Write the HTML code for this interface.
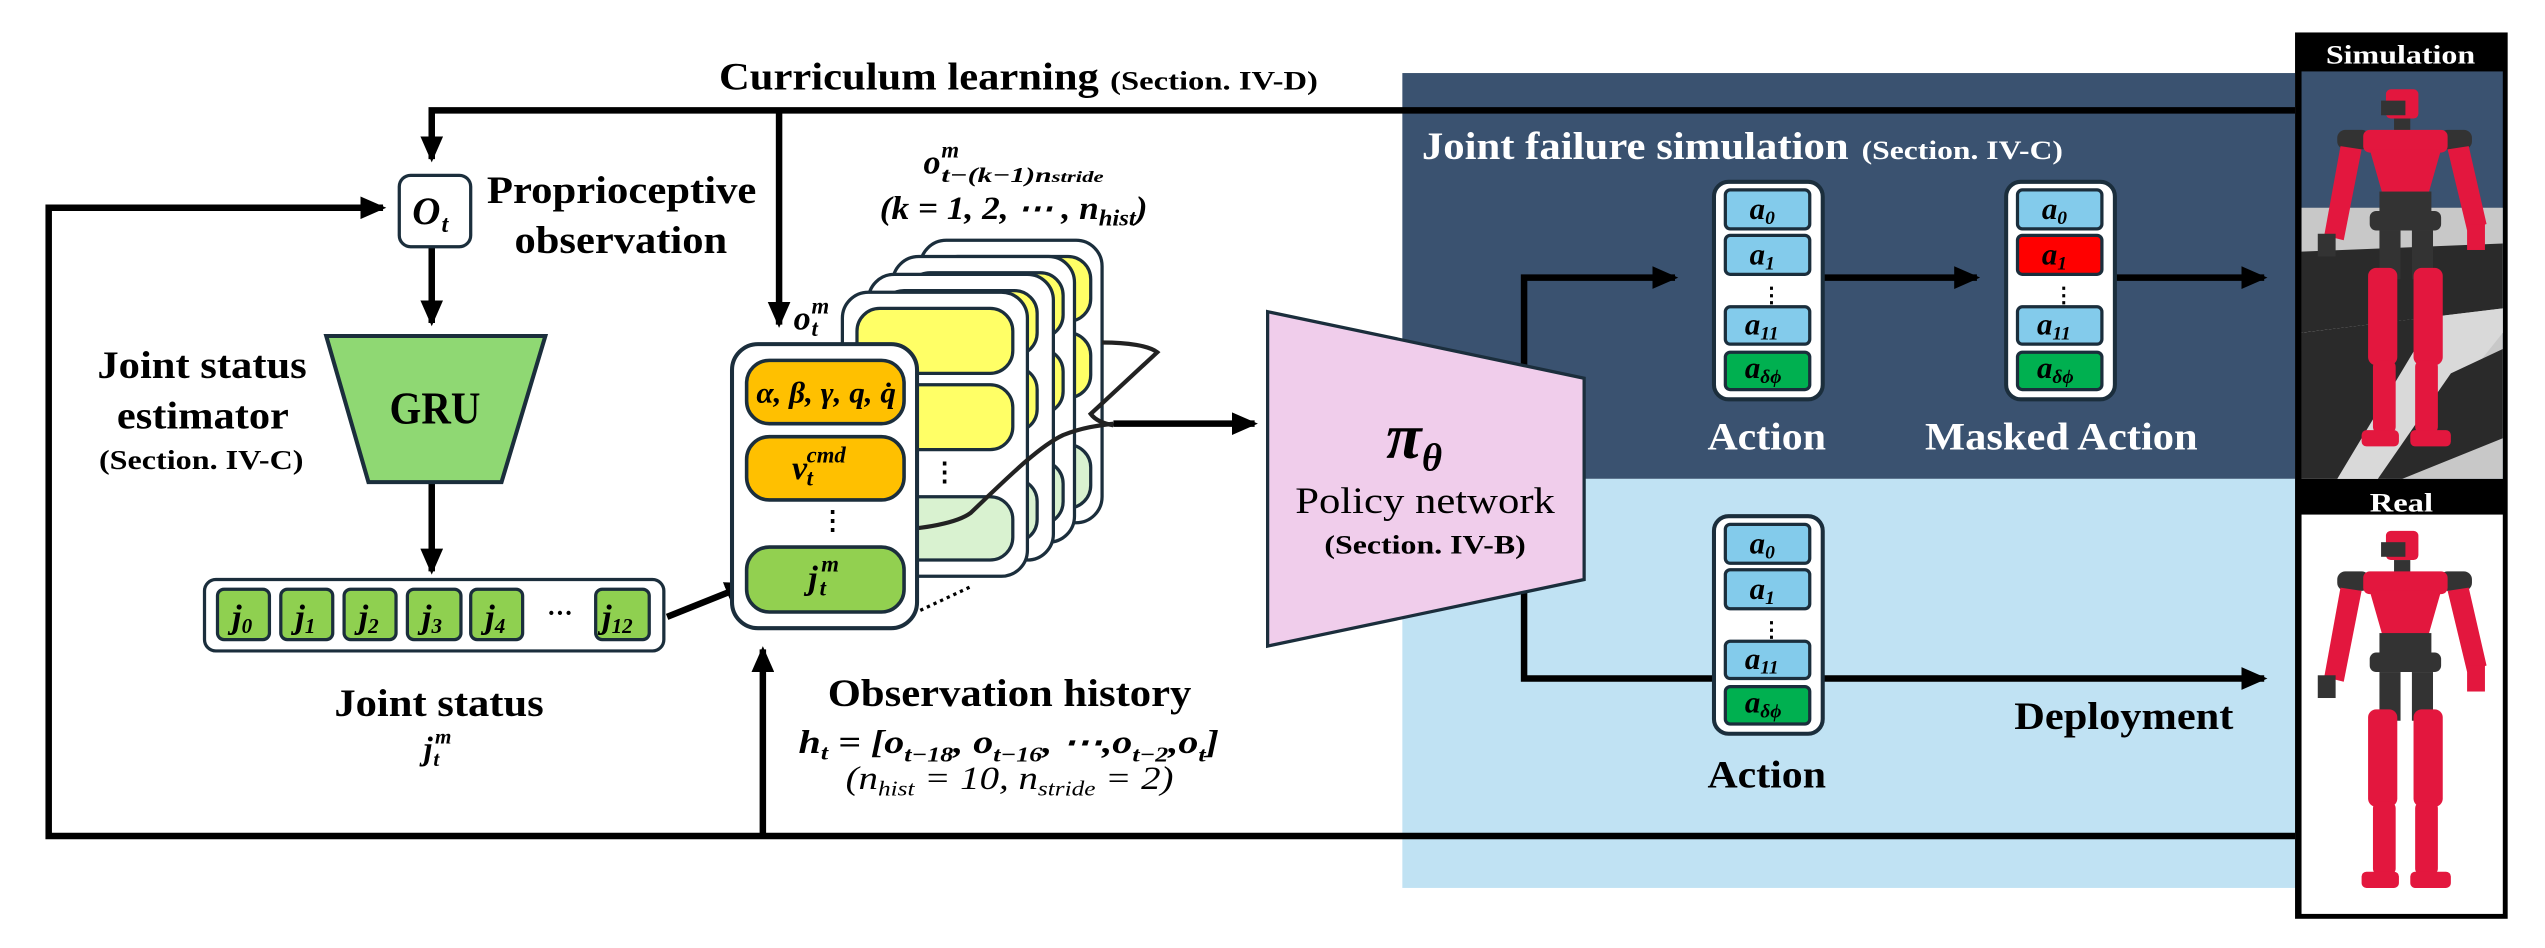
<!DOCTYPE html>
<html><head><meta charset="utf-8"><style>
html,body{margin:0;padding:0;background:#fff;}
svg{display:block;}
text{font-family:"Liberation Serif",serif;}
.b{font-weight:bold;}
.m{font-family:"Liberation Serif",serif;font-style:italic;font-weight:bold;}
</style></head><body>
<svg width="2545" height="948" viewBox="0 0 1568 584" preserveAspectRatio="none" xmlns="http://www.w3.org/2000/svg">
<defs>
<marker id="ar" markerUnits="userSpaceOnUse" markerWidth="16" markerHeight="14" refX="14" refY="7" orient="auto"><path d="M0,0 L16,7 L0,14 Z" fill="#000"/></marker>
</defs>

<rect x="864" y="45" width="550" height="250" fill="#3A5270"/>
<rect x="864" y="295" width="550" height="252" fill="#C0E2F3"/>

<g stroke="#000" stroke-width="4" fill="none">
<polyline points="1414,68 266,68 266,98" marker-end="url(#ar)"/>
<line x1="480" y1="68" x2="480" y2="200" marker-end="url(#ar)"/>
<polyline points="1414,515 30,515 30,128 236,128" marker-end="url(#ar)"/>
<line x1="470" y1="515" x2="470" y2="400" marker-end="url(#ar)"/>
<line x1="266" y1="152" x2="266" y2="199" marker-end="url(#ar)"/>
<line x1="266" y1="297" x2="266" y2="352" marker-end="url(#ar)"/>
<line x1="411" y1="380" x2="461" y2="360" marker-end="url(#ar)"/>
<line x1="686" y1="261" x2="773" y2="261" marker-end="url(#ar)"/>
<polyline points="939,240 939,171 1032,171" marker-end="url(#ar)"/>
<polyline points="939,300 939,418 1395,418" marker-end="url(#ar)"/>
<line x1="1123" y1="171" x2="1218" y2="171" marker-end="url(#ar)"/>
<line x1="1303" y1="171" x2="1395" y2="171" marker-end="url(#ar)"/>
</g>

<text x="443" y="55" class="b" font-size="24" textLength="234" lengthAdjust="spacingAndGlyphs">Curriculum learning</text>
<text x="684" y="55" class="b" font-size="16" textLength="128" lengthAdjust="spacingAndGlyphs">(Section. IV-D)</text>

<rect x="246" y="108" width="44" height="44" rx="7" fill="#fff" stroke="#1b2e3c" stroke-width="2"/>
<text x="254" y="138" class="m" font-size="24" font-weight="normal">O</text><text x="272" y="143" class="m" font-size="15" font-weight="normal">t</text>
<text x="300" y="125" class="b" font-size="24" textLength="166" lengthAdjust="spacingAndGlyphs">Proprioceptive</text>
<text x="317" y="156" class="b" font-size="24" textLength="131" lengthAdjust="spacingAndGlyphs">observation</text>

<polygon points="201,207 336,207 309,297 227,297" fill="#8FD873" stroke="#1b2e3c" stroke-width="2.5"/>
<text x="240" y="261" class="b" font-size="28" textLength="56" lengthAdjust="spacingAndGlyphs">GRU</text>
<text x="60" y="233" class="b" font-size="24" textLength="129" lengthAdjust="spacingAndGlyphs">Joint status</text>
<text x="72" y="264" class="b" font-size="24" textLength="106" lengthAdjust="spacingAndGlyphs">estimator</text>
<text x="61" y="289" class="b" font-size="17" textLength="126" lengthAdjust="spacingAndGlyphs">(Section. IV-C)</text>

<rect x="126" y="357" width="283" height="44" rx="7" fill="#fff" stroke="#1b2e3c" stroke-width="2"/>
<g fill="#8FD050" stroke="#1b2e3c" stroke-width="2">
<rect x="134" y="363" width="32" height="31" rx="4"/>
<rect x="173" y="363" width="32" height="31" rx="4"/>
<rect x="212" y="363" width="32" height="31" rx="4"/>
<rect x="251" y="363" width="33" height="31" rx="4"/>
<rect x="290" y="363" width="32" height="31" rx="4"/>
<rect x="367" y="363" width="33" height="31" rx="4"/>
</g>
<g class="m" font-size="21" font-weight="normal">
<text x="143" y="387">j<tspan font-size="13" dy="3">0</tspan></text>
<text x="182" y="387">j<tspan font-size="13" dy="3">1</tspan></text>
<text x="221" y="387">j<tspan font-size="13" dy="3">2</tspan></text>
<text x="260" y="387">j<tspan font-size="13" dy="3">3</tspan></text>
<text x="299" y="387">j<tspan font-size="13" dy="3">4</tspan></text>
<text x="371" y="387">j<tspan font-size="13" dy="3">12</tspan></text>
</g>
<text x="337" y="383" class="b" font-size="16">···</text>
<text x="206" y="441" class="b" font-size="24" textLength="129" lengthAdjust="spacingAndGlyphs">Joint status</text>
<text x="261" y="468" class="m" font-size="20">j</text><text x="268" y="458" class="m" font-size="13">m</text><text x="267" y="472" class="m" font-size="13">t</text>

<g stroke="#1b2e3c" stroke-width="2">
<rect x="567" y="148" width="112" height="174" rx="16" fill="#fff"/>
<rect x="576" y="158" width="96" height="40" rx="14" fill="#FFFF66"/>
<rect x="576" y="205" width="96" height="40" rx="14" fill="#FFFF66"/>
<rect x="576" y="274" width="96" height="39" rx="14" fill="#D9F2D0"/>
<rect x="550" y="158" width="112" height="176" rx="16" fill="#fff"/>
<rect x="559" y="168" width="96" height="40" rx="14" fill="#FFFF66"/>
<rect x="559" y="215" width="96" height="40" rx="14" fill="#FFFF66"/>
<rect x="559" y="284" width="96" height="39" rx="14" fill="#D9F2D0"/>
<rect x="535" y="169" width="114" height="176" rx="16" fill="#fff"/>
<rect x="543" y="179" width="96" height="40" rx="14" fill="#FFFF66"/>
<rect x="543" y="226" width="96" height="40" rx="14" fill="#FFFF66"/>
<rect x="543" y="295" width="96" height="39" rx="14" fill="#D9F2D0"/>
<rect x="519" y="180" width="114" height="175" rx="16" fill="#fff"/>
<rect x="528" y="190" width="96" height="40" rx="14" fill="#FFFF66"/>
<rect x="528" y="237" width="96" height="40" rx="14" fill="#FFFF66"/>
<rect x="528" y="306" width="96" height="39" rx="14" fill="#D9F2D0"/>
</g>
<text x="574" y="296" class="b" font-size="16">⋮</text>
<path d="M544,327 C570,326 590,322 598,316 C620,295 640,275 655,268 C668,263 678,262 686,261 M679,211 C695,211 708,213 713,217 L672,255 C675,259 680,261 686,262" fill="none" stroke="#222" stroke-width="2.6"/>
<rect x="451" y="212" width="114" height="175" rx="16" fill="#fff" stroke="#1b2e3c" stroke-width="2.5"/>
<g stroke="#1b2e3c" stroke-width="2.2">
<rect x="460" y="222" width="97" height="39" rx="14" fill="#FFC000"/>
<rect x="460" y="269" width="97" height="39" rx="14" fill="#FFC000"/>
<rect x="460" y="337" width="97" height="40" rx="14" fill="#92D050"/>
</g>
<text x="466" y="248" class="m" font-size="18" textLength="86" lengthAdjust="spacingAndGlyphs">α, β, γ, q, q̇</text>
<text x="488" y="295" class="m" font-size="21">v</text><text x="497" y="285" class="m" font-size="14">cmd</text><text x="497" y="299" class="m" font-size="14">t</text>
<text x="505" y="326" class="b" font-size="16">⋮</text>
<text x="498" y="363" class="m" font-size="21">j</text><text x="506" y="352" class="m" font-size="14">m</text><text x="505" y="367" class="m" font-size="14">t</text>
<line x1="567" y1="376" x2="599" y2="361" stroke="#000" stroke-width="2" stroke-dasharray="2,2.5"/>
<text x="489" y="203" class="m" font-size="21">o</text><text x="500" y="193" class="m" font-size="14">m</text><text x="500" y="207" class="m" font-size="14">t</text>

<text x="569" y="107" class="m" font-size="21">o</text><text x="580" y="97" class="m" font-size="14">m</text>
<text x="580" y="112" class="m" font-size="13" textLength="100" lengthAdjust="spacingAndGlyphs">t−(k−1)n<tspan font-size="10">stride</tspan></text>
<text x="542" y="135" class="m" font-size="20" textLength="165" lengthAdjust="spacingAndGlyphs">(k = 1, 2, ⋯ , n<tspan font-size="14" dy="4">hist</tspan><tspan dy="-4">)</tspan></text>

<text x="510" y="435" class="b" font-size="24" textLength="224" lengthAdjust="spacingAndGlyphs">Observation history</text>
<text x="492" y="464" class="m" font-size="20" textLength="259" lengthAdjust="spacingAndGlyphs">h<tspan font-size="13" dy="4">t</tspan><tspan dy="-4">  = [o</tspan><tspan font-size="13" dy="5">t−18</tspan><tspan dy="-5">, o</tspan><tspan font-size="13" dy="5">t−16</tspan><tspan dy="-5">, ⋯,o</tspan><tspan font-size="13" dy="5">t−2</tspan><tspan dy="-5">,o</tspan><tspan font-size="13" dy="5">t</tspan><tspan dy="-5">]</tspan></text>
<text x="521" y="486" font-size="20" font-style="italic" textLength="202" lengthAdjust="spacingAndGlyphs">(n<tspan font-size="13" dy="4">hist</tspan><tspan dy="-4"> = 10, n</tspan><tspan font-size="13" dy="4">stride</tspan><tspan dy="-4"> = 2)</tspan></text>

<polygon points="781,192 976,233 976,357 781,398" fill="#F0CDEB" stroke="#1b2e3c" stroke-width="2"/>
<text x="854" y="282" class="m" font-size="40">π</text><text x="876" y="290" class="m" font-size="24">θ</text>
<text x="798" y="316" font-size="23" textLength="160" lengthAdjust="spacingAndGlyphs">Policy network</text>
<text x="816" y="341" class="b" font-size="16" textLength="124" lengthAdjust="spacingAndGlyphs">(Section. IV-B)</text>

<text x="876" y="98" class="b" font-size="24" fill="#fff" textLength="263" lengthAdjust="spacingAndGlyphs">Joint failure simulation</text>
<text x="1147" y="98" class="b" font-size="16" fill="#fff" textLength="124" lengthAdjust="spacingAndGlyphs">(Section. IV-C)</text>

<g id="col">
<rect x="1056" y="112" width="67" height="134" rx="9" fill="#fff" stroke="#1b2e3c" stroke-width="2.5"/>
<g stroke="#1b2e3c" stroke-width="2">
<rect x="1063" y="117" width="52" height="24" rx="3" fill="#83CBEB"/>
<rect x="1063" y="145" width="52" height="24" rx="3" fill="#83CBEB"/>
<rect x="1063" y="189" width="52" height="23" rx="3" fill="#83CBEB"/>
<rect x="1063" y="217" width="52" height="23" rx="3" fill="#00B050"/>
</g>
<g class="m" font-size="19">
<text x="1078" y="135">a<tspan font-size="12" dy="3">0</tspan></text>
<text x="1078" y="163">a<tspan font-size="12" dy="3">1</tspan></text>
<text x="1075" y="206">a<tspan font-size="12" dy="3">11</tspan></text>
<text x="1075" y="233">a<tspan font-size="12" dy="3">δϕ</tspan></text>
</g>
<text x="1085" y="186" class="b" font-size="13">⋮</text>
</g>
<g transform="translate(180,0)">
<rect x="1056" y="112" width="67" height="134" rx="9" fill="#fff" stroke="#1b2e3c" stroke-width="2.5"/>
<g stroke="#1b2e3c" stroke-width="2">
<rect x="1063" y="117" width="52" height="24" rx="3" fill="#83CBEB"/>
<rect x="1063" y="145" width="52" height="24" rx="3" fill="#FF0000"/>
<rect x="1063" y="189" width="52" height="23" rx="3" fill="#83CBEB"/>
<rect x="1063" y="217" width="52" height="23" rx="3" fill="#00B050"/>
</g>
<g class="m" font-size="19">
<text x="1078" y="135">a<tspan font-size="12" dy="3">0</tspan></text>
<text x="1078" y="163">a<tspan font-size="12" dy="3">1</tspan></text>
<text x="1075" y="206">a<tspan font-size="12" dy="3">11</tspan></text>
<text x="1075" y="233">a<tspan font-size="12" dy="3">δϕ</tspan></text>
</g>
<text x="1085" y="186" class="b" font-size="13">⋮</text>
</g>
<use href="#col" transform="translate(0,206)"/>

<text x="1052" y="277" class="b" font-size="24" fill="#fff" textLength="73" lengthAdjust="spacingAndGlyphs">Action</text>
<text x="1186" y="277" class="b" font-size="24" fill="#fff" textLength="168" lengthAdjust="spacingAndGlyphs">Masked Action</text>
<text x="1052" y="485" class="b" font-size="24" textLength="73" lengthAdjust="spacingAndGlyphs">Action</text>
<text x="1241" y="449" class="b" font-size="24" textLength="135" lengthAdjust="spacingAndGlyphs">Deployment</text>

<rect x="1414" y="20" width="131" height="546" fill="#000"/>
<rect x="1418" y="44" width="124" height="251" fill="#3A5270"/>
<polygon points="1418,128 1542,128 1542,295 1418,295" fill="#c8c8c8"/>
<polygon points="1418,155 1542,150 1542,190 1418,205" fill="#2a2a2a"/>
<polygon points="1418,205 1542,190 1542,205 1470,295 1418,295 1418,260" fill="#d9d9d9"/>
<polygon points="1418,205 1500,195 1440,295 1418,295" fill="#2a2a2a"/>
<polygon points="1510,230 1542,215 1542,270 1480,295 1465,295" fill="#2a2a2a"/>
<rect x="1418" y="317" width="124" height="246" fill="#fff"/>
<text x="1433" y="39" class="b" font-size="16" fill="#fff" textLength="92" lengthAdjust="spacingAndGlyphs">Simulation</text>
<text x="1460" y="315" class="b" font-size="16" fill="#fff" textLength="39" lengthAdjust="spacingAndGlyphs">Real</text>

<g id="robot">
<rect x="1470" y="55" width="20" height="18" rx="3" fill="#E3173E"/>
<rect x="1467" y="62" width="15" height="9" fill="#333"/>
<rect x="1475" y="73" width="10" height="8" fill="#333"/>
<rect x="1440" y="80" width="20" height="12" rx="5" fill="#333"/>
<rect x="1503" y="80" width="20" height="12" rx="5" fill="#333"/>
<rect x="1456" y="80" width="52" height="14" rx="4" fill="#E3173E"/>
<polygon points="1460,92 1504,92 1496,120 1468,120" fill="#E3173E"/>
<rect x="1466" y="118" width="32" height="14" fill="#333"/>
<rect x="1460" y="130" width="44" height="12" rx="4" fill="#333"/>
<polygon points="1442,90 1455,92 1444,148 1432,145" fill="#E3173E"/>
<polygon points="1508,92 1521,90 1532,138 1520,142" fill="#E3173E"/>
<rect x="1428" y="144" width="11" height="14" fill="#333"/>
<rect x="1520" y="138" width="11" height="16" fill="#E3173E"/>
<rect x="1466" y="142" width="13" height="30" fill="#333"/>
<rect x="1486" y="142" width="13" height="30" fill="#333"/>
<rect x="1459" y="165" width="18" height="60" rx="5" fill="#E3173E"/>
<rect x="1487" y="165" width="18" height="60" rx="5" fill="#E3173E"/>
<rect x="1462" y="222" width="14" height="45" rx="4" fill="#E3173E"/>
<rect x="1488" y="222" width="14" height="45" rx="4" fill="#E3173E"/>
<rect x="1455" y="265" width="23" height="10" rx="3" fill="#E3173E"/>
<rect x="1485" y="265" width="25" height="10" rx="3" fill="#E3173E"/>
</g>
<use href="#robot" transform="translate(0,272)"/>
</svg>
</body></html>
